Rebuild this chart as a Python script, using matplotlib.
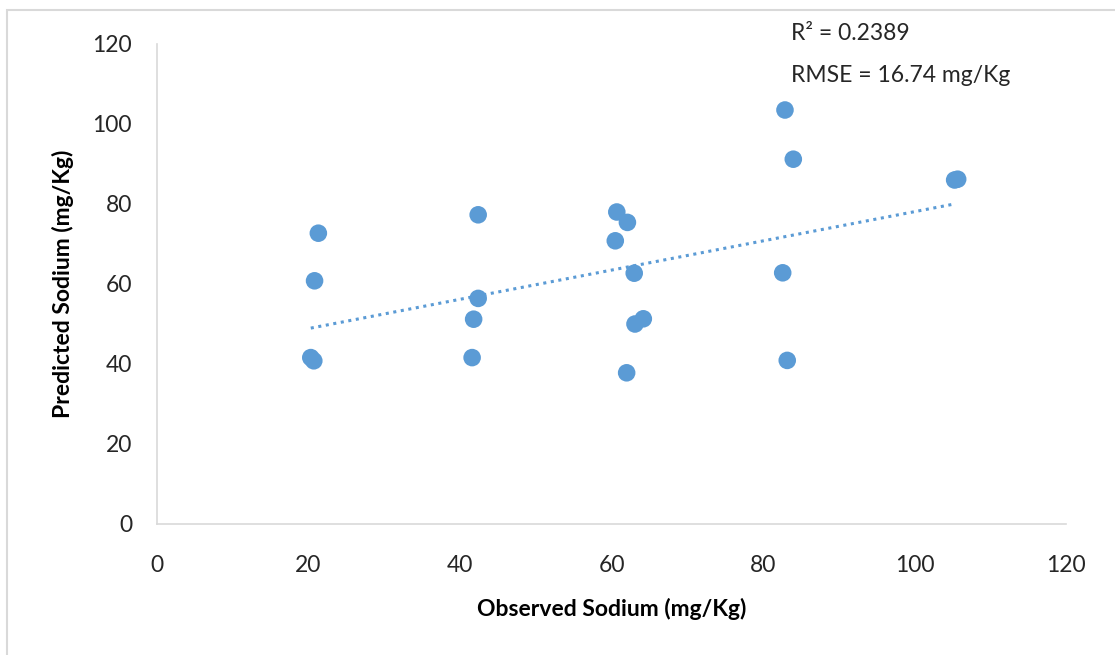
import numpy as np
import matplotlib
matplotlib.use("Agg")
import matplotlib.pyplot as plt
from matplotlib.patches import Rectangle

# observed vs predicted sodium (mg/Kg)
observed = [21.3, 20.8, 20.3, 20.7, 42.4, 42.4, 41.8, 41.6,
            60.7, 62.1, 60.5, 63.0, 64.2, 63.1, 62.0,
            82.9, 84.0, 82.6, 83.2, 105.3, 105.7]
predicted = [72.7, 60.8, 41.6, 40.8, 77.3, 56.4, 51.2, 41.6,
             78.0, 75.4, 70.8, 62.7, 51.3, 50.0, 37.8,
             103.5, 91.2, 62.8, 40.9, 86.0, 86.2]

r2_text = "R\u00b2 = 0.2389"
rmse_text = "RMSE = 16.74 mg/Kg"

blue = "#5B9BD5"
grey = "#D9D9D9"

plt.rcParams['font.family'] = ['Lato', 'DejaVu Sans']

fig = plt.figure(figsize=(11.15, 6.55), dpi=100)
ax = fig.add_axes([157 / 1115, 1 - 524 / 655, (1066 - 157) / 1115, (524 - 44) / 655])

# chart-area border (light grey, as in the spreadsheet export)
fig.patches.append(Rectangle((7 / 1115, -0.1), 1.2, 1 - 10 / 655 + 0.1,
                             transform=fig.transFigure, fill=False,
                             edgecolor=grey, linewidth=1.5))

ax.scatter(observed, predicted, s=160, color=blue, edgecolors='none', zorder=3)

# linear trendline
x = np.array(observed)
slope, intercept = np.polyfit(x, np.array(predicted), 1)
xs = np.array([x.min(), x.max() - 0.8])
ax.plot(xs, slope * xs + intercept - 0.8, color=blue, linestyle=(0, (1, 1.5)),
        linewidth=2.2, zorder=2)

ax.set_xlim(0, 120)
ax.set_ylim(0, 120)
ax.set_xticks(np.arange(0, 121, 20))
ax.set_yticks(np.arange(0, 121, 20))
ax.tick_params(length=0, labelsize=16.5, labelcolor="#262626")
ax.tick_params(axis='x', pad=22)
ax.tick_params(axis='y', pad=18)

for side in ['top', 'right']:
    ax.spines[side].set_visible(False)
for side in ['left', 'bottom']:
    ax.spines[side].set_color(grey)
    ax.spines[side].set_linewidth(1.2)

ax.set_xlabel("Observed Sodium (mg/Kg)", fontsize=16.5, fontweight='bold', labelpad=16)
ax.set_ylabel("Predicted Sodium (mg/Kg)", fontsize=16.5, fontweight='bold', labelpad=13)

fig.text(791 / 1115, 1 - 34 / 655, r2_text, fontsize=16.5, va='center', color="#262626")
fig.text(791 / 1115, 1 - 76 / 655, rmse_text, fontsize=16.5, va='center', color="#262626")

fig.savefig("out.png", dpi=100)
